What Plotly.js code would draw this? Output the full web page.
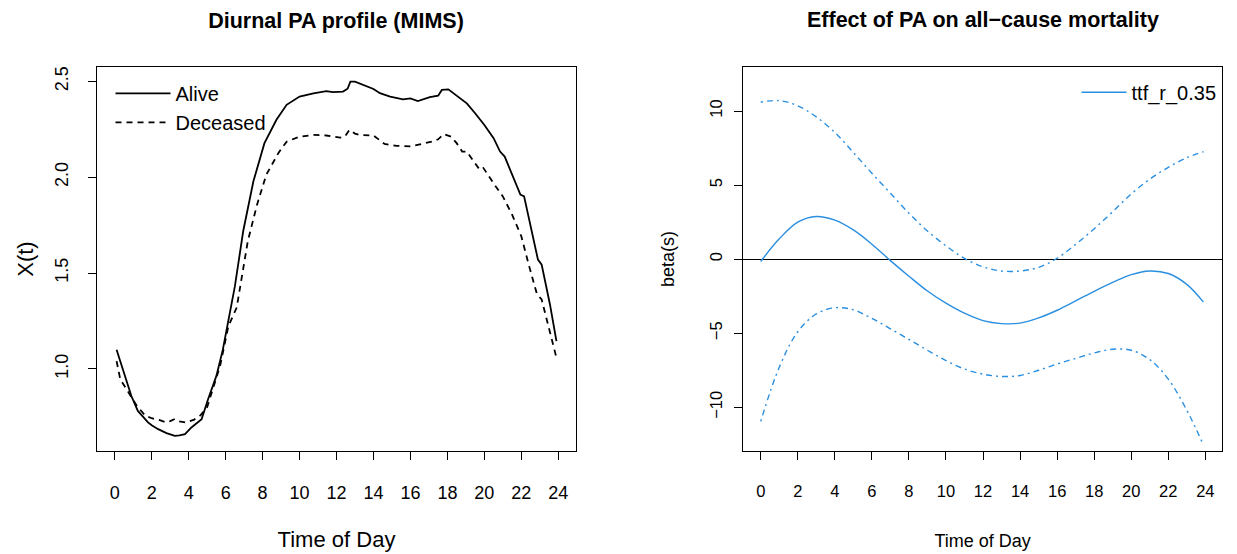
<!DOCTYPE html>
<html>
<head>
<meta charset="utf-8">
<script src="https://cdn.plot.ly/plotly-3.0.1.min.js"></script>
<style>html,body{margin:0;padding:0;background:#fff}#chart{width:1237px;height:554px}</style>
</head>
<body>
<div id="chart"></div>
<script>
// ---- Left panel: diurnal PA profile (MIMS) ----
const hoursAlive = [0.1,0.5,0.9,1.25,1.5,1.8,2.0,2.35,2.8,3.25,3.5,3.8,4.15,4.5,4.7,5.05,5.5,5.85,6.15,6.5,6.95,7.5,8.1,8.75,9.3,10.0,10.75,11.45,11.8,12.35,12.6,12.75,13.0,13.45,14.0,14.35,14.9,15.6,16.0,16.4,17.05,17.5,17.7,18.05,18.4,18.7,19.05,19.5,20.0,20.5,20.85,21.1,21.55,21.95,22.15,22.55,22.9,23.1,23.55,23.9];
const alive = [1.10,0.975,0.858,0.78,0.75,0.72,0.705,0.685,0.664,0.65,0.653,0.659,0.694,0.72,0.737,0.841,0.963,1.10,1.258,1.43,1.718,1.978,2.178,2.30,2.378,2.421,2.438,2.45,2.444,2.447,2.462,2.499,2.499,2.482,2.461,2.439,2.421,2.407,2.412,2.398,2.418,2.426,2.456,2.459,2.433,2.409,2.386,2.334,2.273,2.204,2.134,2.108,2.004,1.909,1.90,1.718,1.57,1.544,1.336,1.145];
const hoursDeceased = [0.1,0.3,0.75,1.2,1.65,2.0,2.4,2.8,3.0,3.25,3.5,3.85,4.3,4.65,5.0,5.25,5.7,6.15,6.6,7.2,7.7,8.2,8.85,9.3,10.0,10.75,11.45,12.2,12.45,12.7,13.0,13.25,14.0,14.6,15.25,16.0,16.6,17.2,17.5,17.8,18.2,18.5,18.8,19.05,19.75,19.95,20.55,21.0,21.5,22.0,22.4,22.85,23.1,23.55,23.9];
const deceased = [1.04,0.945,0.876,0.806,0.756,0.742,0.733,0.72,0.727,0.738,0.726,0.72,0.735,0.758,0.80,0.876,1.015,1.223,1.32,1.666,1.857,2.013,2.126,2.186,2.212,2.221,2.218,2.207,2.212,2.247,2.228,2.221,2.218,2.174,2.164,2.161,2.173,2.187,2.198,2.225,2.212,2.178,2.134,2.134,2.039,2.048,1.961,1.90,1.805,1.692,1.544,1.388,1.362,1.197,1.058];

// ---- Right panel: effect of PA on all-cause mortality ----
const hoursBeta = [0,1,2,3,4,5,6,7,8,9,10,11,12,13,14,15,16,17,18,19,20,21,22,23,23.9];
const betaHat = [-0.16,1.37,2.5,2.88,2.63,1.97,1.01,-0.1,-1.15,-2.15,-2.97,-3.65,-4.15,-4.35,-4.32,-3.97,-3.45,-2.82,-2.17,-1.57,-1.05,-0.8,-0.97,-1.7,-2.9];
const betaUpper = [10.6,10.7,10.35,9.6,8.55,7.2,5.8,4.45,3.1,1.9,0.9,0.05,-0.52,-0.8,-0.8,-0.55,0.06,1.0,2.05,3.2,4.4,5.4,6.2,6.85,7.25];
const betaLower = [-10.95,-7.3,-4.9,-3.7,-3.28,-3.42,-4.0,-4.7,-5.42,-6.15,-6.85,-7.42,-7.76,-7.92,-7.85,-7.5,-7.08,-6.7,-6.33,-6.08,-6.15,-6.78,-8.1,-10.2,-12.55];

const hourTicks = [0,2,4,6,8,10,12,14,16,18,20,22,24];
const leftYTicks = [1.0,1.5,2.0,2.5];
const rightYTicks = [-10,-5,0,5,10];

const FONT = 'Liberation Sans, Arial, Helvetica, sans-serif';
const BLUE = '#2a8fe0';

const traces = [
  {x: hoursAlive, y: alive, type: 'scatter', mode: 'lines', name: 'Alive',
   line: {color: '#000', width: 1.8}, xaxis: 'x', yaxis: 'y', legend: 'legend'},
  {x: hoursDeceased, y: deceased, type: 'scatter', mode: 'lines', name: 'Deceased',
   line: {color: '#000', width: 1.8, dash: '6px,5px'}, xaxis: 'x', yaxis: 'y', legend: 'legend'},
  {x: hoursBeta, y: betaHat, type: 'scatter', mode: 'lines', name: 'ttf_r_0.35',
   line: {color: BLUE, width: 1.4, shape: 'spline', smoothing: 1}, xaxis: 'x2', yaxis: 'y2', legend: 'legend2'},
  {x: hoursBeta, y: betaUpper, type: 'scatter', mode: 'lines', name: 'upper', showlegend: false,
   line: {color: BLUE, width: 1.4, shape: 'spline', smoothing: 1, dash: '2px,4px,6px,4px'}, xaxis: 'x2', yaxis: 'y2'},
  {x: hoursBeta, y: betaLower, type: 'scatter', mode: 'lines', name: 'lower', showlegend: false,
   line: {color: BLUE, width: 1.4, shape: 'spline', smoothing: 1, dash: '2px,4px,6px,4px'}, xaxis: 'x2', yaxis: 'y2'}
];

const boxAxis = {
  showline: true, mirror: true, linecolor: '#000', linewidth: 1,
  ticks: 'outside', ticklen: 8, tickcolor: '#000', tickwidth: 1,
  showgrid: false, zeroline: false, fixedrange: true
};

const layout = {
  width: 1237, height: 554,
  margin: {l: 97, r: 15, t: 67, b: 102.5},
  paper_bgcolor: '#fff', plot_bgcolor: '#fff',
  font: {family: FONT, color: '#000'},
  showlegend: true,
  title: {text: '<b>Diurnal PA profile (MIMS)</b>', font: {size: 21.5, family: FONT, color: '#000'},
          x: 336/1237, xanchor: 'center', xref: 'container', y: 1 - 20/554, yanchor: 'middle', yref: 'container'},
  xaxis: Object.assign({}, boxAxis, {
    domain: [0, 0.4258], range: [-0.96, 24.96], tickvals: hourTicks, ticklabelstandoff: 17,
    tickfont: {size: 18}, title: {text: 'Time of Day', font: {size: 22}, standoff: 30}
  }),
  yaxis: Object.assign({}, boxAxis, {
    domain: [0, 1], range: [0.571, 2.5755], tickvals: leftYTicks, tickformat: '.1f', ticklabelstandoff: 13,
    tickangle: -90, tickfont: {size: 18}, title: {text: 'X(t)', font: {size: 22}, standoff: 12}
  }),
  xaxis2: Object.assign({}, boxAxis, {
    domain: [0.5745, 1], range: [-0.94, 24.9], tickvals: hourTicks, anchor: 'y2', ticklabelstandoff: 17,
    tickfont: {size: 16.5}, title: {text: 'Time of Day', font: {size: 18}, standoff: 35}
  }),
  yaxis2: Object.assign({}, boxAxis, {
    domain: [0, 1], range: [-12.95, 12.97], tickvals: rightYTicks, anchor: 'x2', ticklabelstandoff: 6,
    zeroline: true, zerolinecolor: '#000', zerolinewidth: 1,
    tickangle: -90, tickfont: {size: 16.5}, title: {text: 'beta(s)', font: {size: 18}, standoff: 27}
  }),
  legend: {x: 0.012, xanchor: 'left', y: 0.982, yanchor: 'top', bgcolor: 'rgba(0,0,0,0)',
           borderwidth: 0, font: {size: 20, family: FONT}, tracegroupgap: 0, itemwidth: 55},
  legend2: {x: 0.8707, xanchor: 'left', y: 0.985, yanchor: 'top', bgcolor: 'rgba(0,0,0,0)',
            borderwidth: 0, font: {size: 20, family: FONT}, itemwidth: 45},
  annotations: [
    {text: '<b>Effect of PA on all\u2212cause mortality</b>', xref: 'paper', yref: 'paper',
     x: (983 - 97) / 1125, y: 1 + (67 - 20) / 384.5, xanchor: 'center', yanchor: 'middle',
     showarrow: false, font: {size: 21.5, family: FONT, color: '#000'}}
  ]
};

Plotly.newPlot('chart', traces, layout, {displayModeBar: false, staticPlot: true});
</script>
</body>
</html>
